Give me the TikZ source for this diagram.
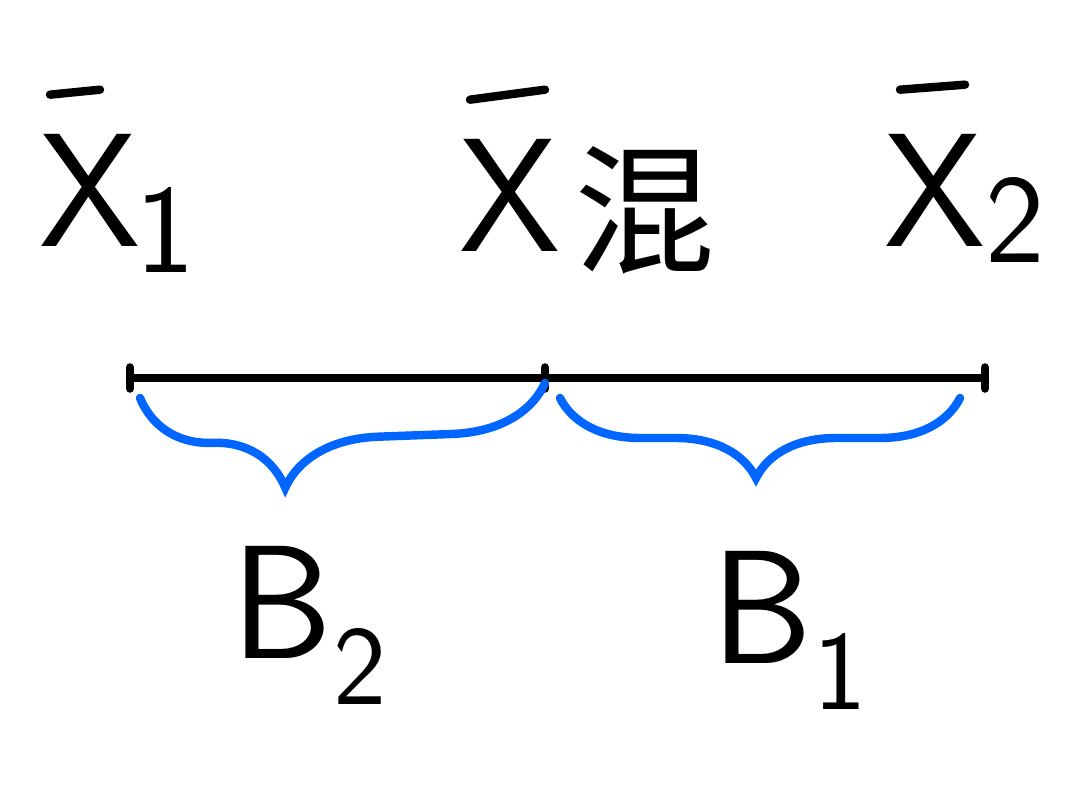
\documentclass[tikz,border=0pt]{standalone}
\usepackage{fontspec}
\newfontfamily\cjk{Noto Sans CJK SC}
\usetikzlibrary{decorations.pathreplacing, positioning}

\begin{document}
\begin{tikzpicture}[every node/.style={font=\fontsize{46}{50}\selectfont\sffamily, inner sep=1pt},
		sub/.style={font=\fontsize{36}{40}\selectfont\sffamily},
		seg/.style={line width=2.4pt, line cap=round},
		part/.style={draw=blue!60!cyan, line width=2.4pt, line cap=round, decorate}]
		\useasboundingbox (0,0) rectangle (10.8,7.85);
		% means
		\node (x1) at (0.9,5.95) {X};
		\node[sub] (x1s) at (1.65,5.55) {1};
		\node (xm) at (5.1,5.9) {X};
		\node[font=\fontsize{40}{44}\selectfont\cjk] (xms) at (6.45,5.75) {混};
		\node (x2) at (9.35,5.95) {X};
		\node[sub] (x2s) at (10.15,5.65) {2};
		\draw[seg] ([shift={(-0.4,0.35)}]x1.north) -- ([shift={(0.1,0.4)}]x1.north);
		\draw[seg] ([shift={(-0.4,0.35)}]xm.north) -- ([shift={(0.35,0.45)}]xm.north);
		\draw[seg] ([shift={(-0.35,0.4)}]x2.north) -- ([shift={(0.3,0.45)}]x2.north);
		% the segment
		\coordinate (a) at (1.3,4.07);
		\coordinate (m) at (5.45,4.07);
		\coordinate (b) at (9.85,4.07);
		\draw[seg] (a) -- (b);
		\draw[seg] ([yshift=-3pt]a) -- ([yshift=3pt]a);
		\draw[seg] ([yshift=-3pt]m) -- ([yshift=3pt]m);
		\draw[seg] ([yshift=-3pt]b) -- ([yshift=3pt]b);
		\draw[part, decoration={brace, mirror, amplitude=0.95cm, aspect=0.35}] ([shift={(0.1,-0.2)}]a) -- ([yshift=-0.05cm]m);
		\draw[part, decoration={brace, mirror, amplitude=0.8cm, aspect=0.49}] ([shift={(0.15,-0.2)}]m) -- ([shift={(-0.25,-0.2)}]b);
		% parts
		\node (b2) at (3.1,1.6) {B\textsubscript{2}};
		\node (b1) at (7.9,1.55) {B\textsubscript{1}};
	\end{tikzpicture}
\end{document}
